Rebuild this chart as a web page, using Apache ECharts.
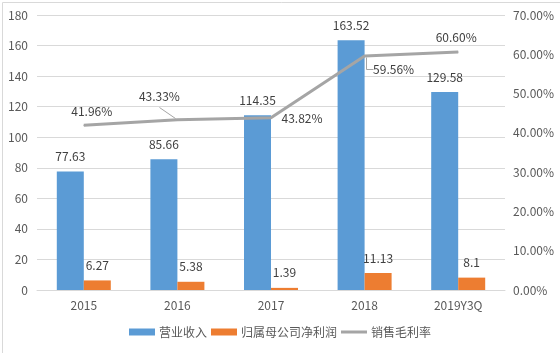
<!DOCTYPE html>
<html><head><meta charset="utf-8">
<script src="https://cdn.jsdelivr.net/npm/echarts@6/dist/echarts.min.js"></script>
<style>html,body{margin:0;padding:0;background:#fff}#c{width:560px;height:353px}</style>
</head><body><div id="c"></div>
<script>
const categories = ['2015', '2016', '2017', '2018', '2019Y3Q'];
const revenue = [77.63, 85.66, 114.35, 163.52, 129.58];
const netProfit = [6.27, 5.38, 1.39, 11.13, 8.1];
const grossMargin = [41.96, 43.33, 43.82, 59.56, 60.60];
const seriesNames = ['营业收入', '归属母公司净利润', '销售毛利率'];

// label offsets and leader-line shapes (style, not data)
const marginLabelOffsets = [[8, -14], [-18, -23], [31, 1], [29, 13], [-2, -14]];
const leaderShapes = {
  1: [[-2, -2], [-18, -13]],
  3: [[1.5, 1], [1.5, 12.5], [8, 12.5]]
};

const FONT = "'Liberation Sans Narrow', 'Noto Sans CJK SC', sans-serif";
const chart = echarts.init(document.getElementById('c'), null, {renderer: 'canvas'});
chart.setOption({
  animation: false,
  textStyle: {fontFamily: FONT},
  graphic: [{type: 'rect', left: 0, top: 0, shape: {x: 0.5, y: 0.5, width: 559, height: 352}, style: {fill: 'none', stroke: '#d9d9d9', lineWidth: 1}, silent: true}],
  grid: {left: 37, right: 55, top: 15, bottom: 63},
  legend: {
    bottom: 10, left: 'center', itemWidth: 26, itemHeight: 7, itemGap: 4,
    textStyle: {color: '#595959', fontSize: 12, fontFamily: "'Noto Sans CJK SC', sans-serif", padding: [0, 0, 0, -1]},
    data: [
      {name: seriesNames[0], icon: 'rect'},
      {name: seriesNames[1], icon: 'rect'},
      {name: seriesNames[2], icon: 'path://M0,0h26v3h-26z'}
    ]
  },
  xAxis: {
    type: 'category', data: categories,
    axisLine: {lineStyle: {color: '#d9d9d9'}}, axisTick: {show: false},
    axisLabel: {color: '#595959', fontSize: 12, margin: 9}
  },
  yAxis: [
    {type: 'value', min: 0, max: 180, interval: 20,
     axisLine: {show: false}, axisTick: {show: false},
     splitLine: {lineStyle: {color: '#d9d9d9'}},
     axisLabel: {color: '#595959', fontSize: 12, margin: 9}},
    {type: 'value', min: 0, max: 70, interval: 10,
     axisLine: {show: false}, axisTick: {show: false}, splitLine: {show: false},
     axisLabel: {color: '#595959', fontSize: 12, margin: 8, formatter: v => v.toFixed(2) + '%'}}
  ],
  series: [
    {name: seriesNames[0], type: 'bar', data: revenue, barWidth: 27, barGap: '0%',
     itemStyle: {color: '#5b9bd5'},
     label: {show: true, position: 'top', distance: 9, color: '#404040', fontSize: 12}},
    {name: seriesNames[1], type: 'bar', data: netProfit, barWidth: 27,
     itemStyle: {color: '#ed7d31'},
     label: {show: true, position: 'top', distance: 9, color: '#404040', fontSize: 12}},
    {name: seriesNames[2], type: 'line', yAxisIndex: 1, data: grossMargin,
     symbol: 'circle', symbolSize: 1, showAllSymbol: true,
     lineStyle: {color: '#a5a5a5', width: 3}, itemStyle: {color: '#a5a5a5'},
     label: {show: true, position: 'inside', color: '#404040', fontSize: 12, formatter: p => p.value.toFixed(2) + '%'},
     labelLayout: p => ({dx: marginLabelOffsets[p.dataIndex][0], dy: marginLabelOffsets[p.dataIndex][1]})},
    {name: 'leader', type: 'custom', yAxisIndex: 1, silent: true, z: 1,
     data: Object.keys(leaderShapes).map(k => [Number(k), grossMargin[Number(k)]]),
     renderItem: (params, api) => {
       const idx = api.value(0);
       const pt = api.coord([idx, api.value(1)]);
       const pts = leaderShapes[idx].map(d => [Math.round(pt[0] + d[0]) + 0.5, Math.round(pt[1] + d[1]) + 0.5]);
       return {type: 'polyline', shape: {points: pts}, style: {stroke: '#a5a5a5', lineWidth: 1, fill: null}};
     }}
  ]
});
</script></body></html>
